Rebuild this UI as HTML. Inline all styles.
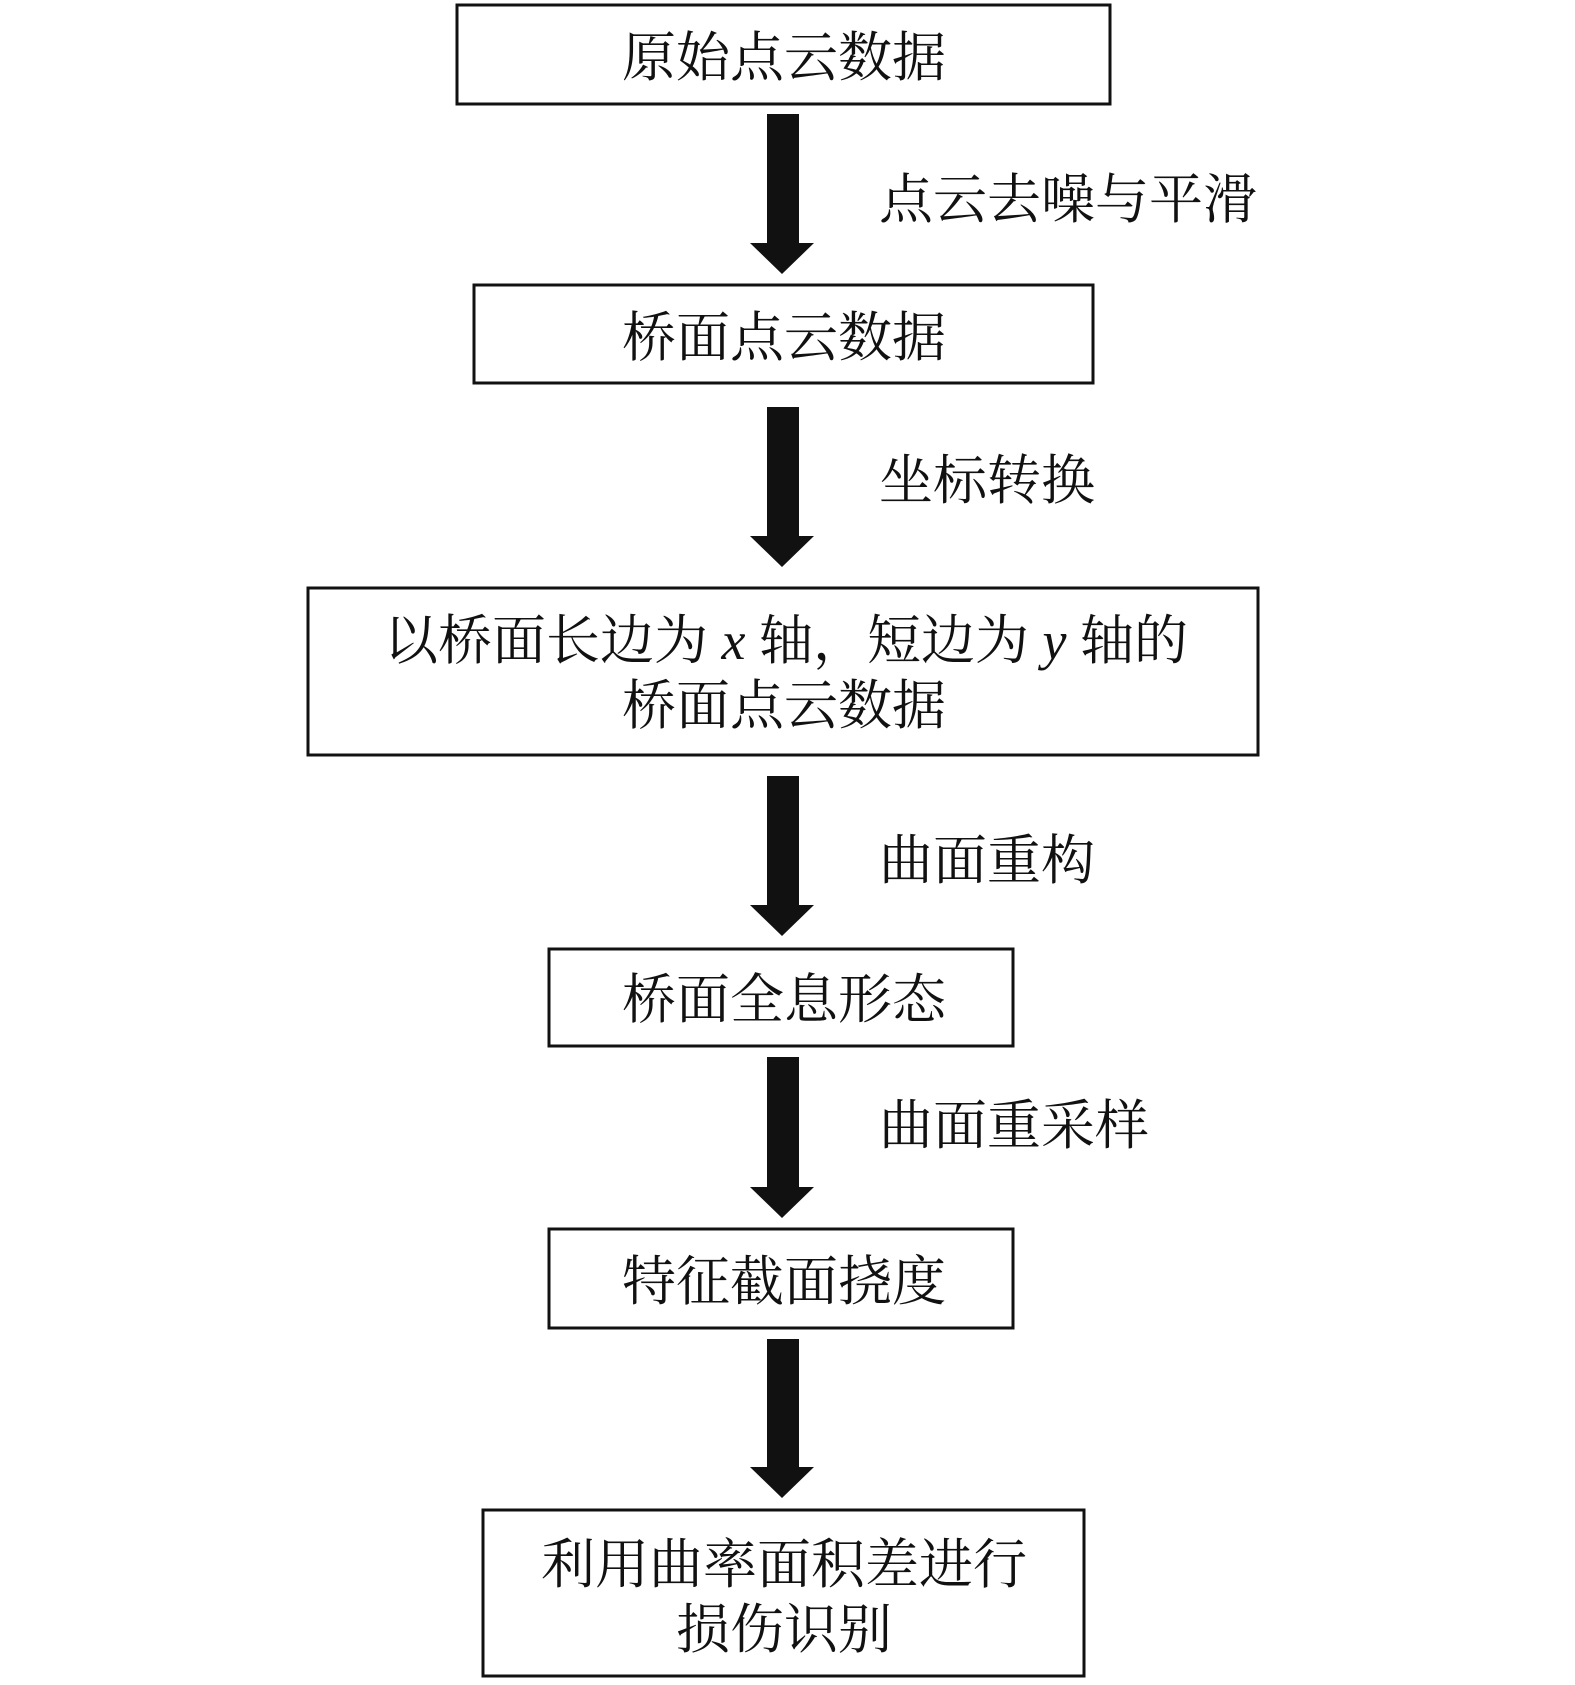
<!DOCTYPE html>
<html><head><meta charset="utf-8"><style>
html,body{margin:0;padding:0;background:#fff;}
svg{display:block}
text{font-family:"Liberation Serif","Noto Serif CJK SC",serif;font-size:54px;fill:#111;}
</style></head><body>
<svg width="1575" height="1685" viewBox="0 0 1575 1685" xmlns="http://www.w3.org/2000/svg">
<g fill="none" stroke="#111" stroke-width="3">
<rect x="457" y="5" width="653" height="99"/>
<rect x="474" y="285" width="619" height="98"/>
<rect x="308" y="588" width="950" height="167"/>
<rect x="549" y="949" width="464" height="97"/>
<rect x="549" y="1229" width="464" height="99"/>
<rect x="483" y="1510" width="601" height="166"/>
</g>
<g fill="#111">
<rect x="767" y="114" width="32" height="130"/><polygon points="750,243 814,243 782,274"/>
<rect x="767" y="407" width="32" height="130"/><polygon points="750,536 814,536 782,567"/>
<rect x="767" y="776" width="32" height="130"/><polygon points="750,905 814,905 782,936"/>
<rect x="767" y="1057" width="32" height="131"/><polygon points="750,1187 814,1187 782,1218"/>
<rect x="767" y="1339" width="32" height="129"/><polygon points="750,1467 814,1467 782,1498"/>
</g>
<g text-anchor="middle">
<text x="784" y="76">原始点云数据</text>
<text x="784" y="356">桥面点云数据</text>
<text x="786" y="659">以桥面长边为 <tspan font-style="italic">x</tspan> 轴，短边为 <tspan font-style="italic">y</tspan> 轴的</text>
<text x="784" y="724">桥面点云数据</text>
<text x="784" y="1018">桥面全息形态</text>
<text x="784" y="1300">特征截面挠度</text>
<text x="784" y="1583">利用曲率面积差进行</text>
<text x="784" y="1648">损伤识别</text>
</g>
<g text-anchor="start">
<text x="879" y="218">点云去噪与平滑</text>
<text x="879" y="499">坐标转换</text>
<text x="879" y="879">曲面重构</text>
<text x="879" y="1144">曲面重采样</text>
</g>
</svg>
</body></html>
